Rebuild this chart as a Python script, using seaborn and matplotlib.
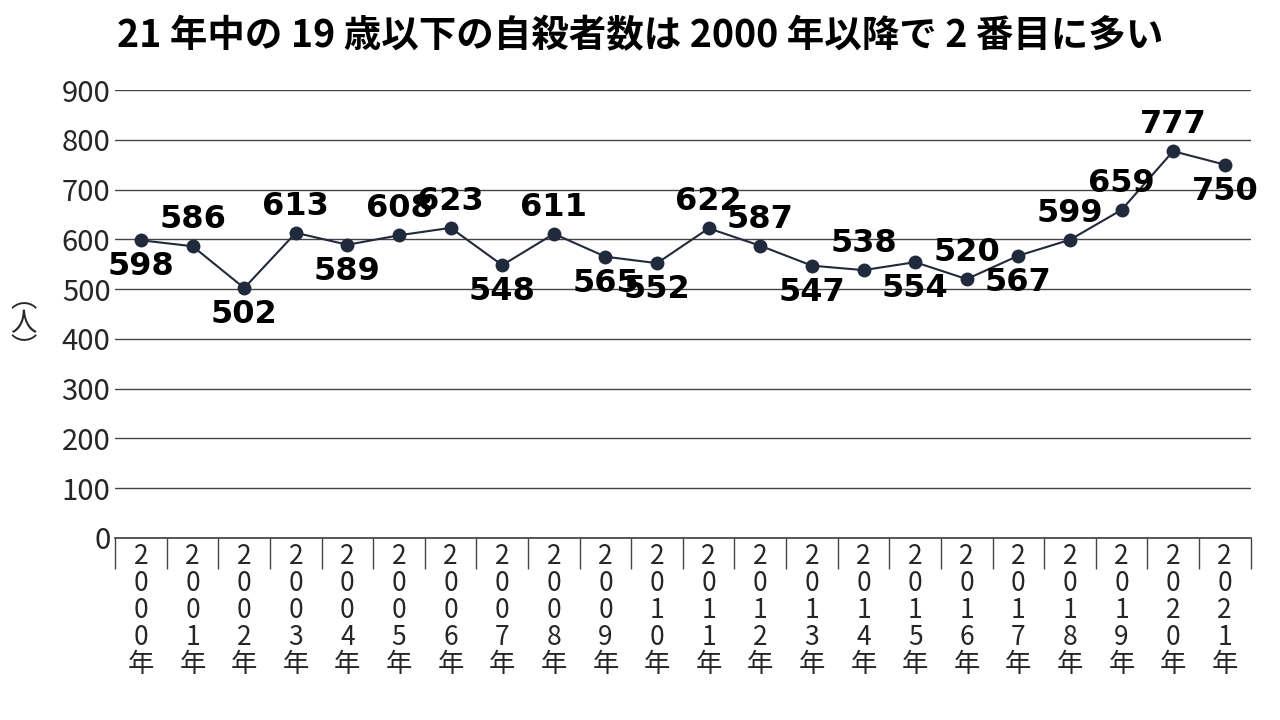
import matplotlib
matplotlib.use("Agg")
import matplotlib.pyplot as plt
import seaborn as sns
import pandas as pd

years = list(range(2000, 2022))
values = [598, 586, 502, 613, 589, 608, 623, 548, 611, 565, 552, 622, 587, 547, 538, 554, 520, 567, 599, 659, 777, 750]
above = [False, True, False, True, False, True, True, False, True, False, False, True, True, False, True, False, True, False, True, True, True, False]
tick_labels = ["\n".join(list(str(y)) + ["年"]) for y in years]

sns.set_theme(style="white")
plt.rcParams['font.family'] = ['Noto Sans CJK JP', 'DejaVu Sans']

fig = plt.figure(figsize=(12.8, 7.2), dpi=100)
ax = fig.add_axes([0.09, 0.253, 0.887, 0.622])
df = pd.DataFrame({"x": range(len(years)), "v": values})
sns.lineplot(data=df, x="x", y="v", ax=ax, color="#1f2a3c", lw=1.5, marker="o",
             markersize=10, markeredgewidth=0, zorder=3)
for i, (v, a) in enumerate(zip(values, above)):
    ax.annotate(str(v), (i, v), xytext=(0, 8 if a else -8), textcoords="offset points",
                ha="center", va="bottom" if a else "top", fontsize=23, fontweight="bold",
                family="DejaVu Sans", color="black", zorder=4)
ax.set_ylim(0, 900)
ax.set_xlim(-0.5, len(years) - 0.5)
ax.set_yticks(range(0, 901, 100))
ax.yaxis.grid(True, color="#444444", lw=1)
ax.set_xticks(range(len(years)))
ax.set_xticklabels(tick_labels, fontsize=19, linespacing=1.0, va="top")
ax.set_xticks([i - 0.5 for i in range(len(years) + 1)], minor=True)
ax.tick_params(axis="x", which="major", length=0, pad=4)
ax.tick_params(axis="x", which="minor", length=22, color="#444444", width=1, bottom=True)
ax.tick_params(axis="y", labelsize=21, length=0)
for s in ["top", "right", "left"]:
    ax.spines[s].set_visible(False)
ax.spines["bottom"].set_color("#444444")
ax.set_xlabel("")
ax.set_ylabel("")
fig.text(0.008, 0.55, "︵\n人\n︶", fontsize=19, ha="left", va="center", linespacing=0.9)
fig.text(0.5, 0.95, "21 年中の 19 歳以下の自殺者数は 2000 年以降で 2 番目に多い",
         ha="center", va="center", fontsize=27, fontweight="bold", color="black")
fig.savefig("out.png", dpi=100)
